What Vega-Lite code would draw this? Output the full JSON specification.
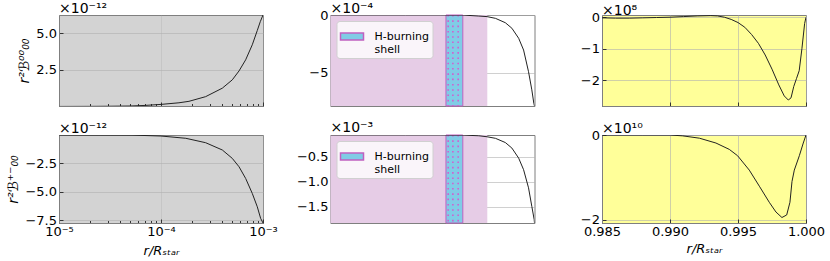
{
  "$schema": "https://vega.github.io/schema/vega-lite/v6.json",
  "padding": {"left": 6, "top": 1, "right": 0, "bottom": 0},
  "background": "white",
  "datasets": {
    "tl": [
      {"r": 0.00001, "v": 0.0}, {"r": 0.00002, "v": 0.005}, {"r": 0.00003, "v": 0.012}, {"r": 0.00005, "v": 0.03},
      {"r": 0.00007, "v": 0.07}, {"r": 0.0001, "v": 0.14}, {"r": 0.00015, "v": 0.25}, {"r": 0.000188, "v": 0.35},
      {"r": 0.000274, "v": 0.67}, {"r": 0.000399, "v": 1.25}, {"r": 0.0005, "v": 1.82}, {"r": 0.000582, "v": 2.43},
      {"r": 0.000676, "v": 3.19}, {"r": 0.000785, "v": 4.22}, {"r": 0.000879, "v": 5.2}, {"r": 0.00094, "v": 5.8},
      {"r": 0.001, "v": 6.26}
    ],
    "bl": [
      {"r": 0.00001, "v": 0.0}, {"r": 0.000052, "v": -0.01}, {"r": 0.0001, "v": -0.09}, {"r": 0.000175, "v": -0.29},
      {"r": 0.000274, "v": -0.68}, {"r": 0.000399, "v": -1.32}, {"r": 0.0005, "v": -2.06}, {"r": 0.000582, "v": -2.8},
      {"r": 0.000676, "v": -3.83}, {"r": 0.000785, "v": -5.15}, {"r": 0.000879, "v": -6.33}, {"r": 0.000948, "v": -7.35},
      {"r": 0.001, "v": -7.76}
    ],
    "tm": [
      {"r": 0.001, "v": 0.0}, {"r": 0.003, "v": 0.0}, {"r": 0.005, "v": 0.0}, {"r": 0.0069, "v": 0.0},
      {"r": 0.00883, "v": -0.09}, {"r": 0.00996, "v": -0.14}, {"r": 0.01127, "v": -0.29}, {"r": 0.01303, "v": -0.67},
      {"r": 0.01435, "v": -1.15}, {"r": 0.01585, "v": -2.02}, {"r": 0.01704, "v": -3.04}, {"r": 0.01832, "v": -4.92},
      {"r": 0.01923, "v": -6.5}, {"r": 0.0198, "v": -7.66}, {"r": 0.02, "v": -7.9}
    ],
    "bm": [
      {"r": 0.001, "v": -0.07}, {"r": 0.003, "v": -0.07}, {"r": 0.005, "v": -0.07}, {"r": 0.0069, "v": -0.071},
      {"r": 0.00883, "v": -0.085}, {"r": 0.00996, "v": -0.105}, {"r": 0.01127, "v": -0.136}, {"r": 0.01303, "v": -0.22},
      {"r": 0.01435, "v": -0.33}, {"r": 0.01585, "v": -0.53}, {"r": 0.01704, "v": -0.76}, {"r": 0.01832, "v": -1.12},
      {"r": 0.01923, "v": -1.49}, {"r": 0.0199, "v": -1.75}, {"r": 0.02, "v": -1.82}
    ],
    "tr": [
      {"r": 0.985, "v": -0.02}, {"r": 0.986, "v": -0.03}, {"r": 0.987, "v": -0.03}, {"r": 0.988, "v": -0.02},
      {"r": 0.989, "v": -0.01}, {"r": 0.99, "v": 0.0}, {"r": 0.991, "v": 0.02}, {"r": 0.992, "v": 0.04},
      {"r": 0.993, "v": 0.05}, {"r": 0.9935, "v": 0.04}, {"r": 0.994, "v": 0.0}, {"r": 0.9945, "v": -0.07},
      {"r": 0.995, "v": -0.17}, {"r": 0.9955, "v": -0.32}, {"r": 0.996, "v": -0.55}, {"r": 0.9965, "v": -0.83},
      {"r": 0.997, "v": -1.2}, {"r": 0.9975, "v": -1.65}, {"r": 0.998, "v": -2.15}, {"r": 0.9984, "v": -2.5},
      {"r": 0.9987, "v": -2.63}, {"r": 0.9989, "v": -2.56}, {"r": 0.9991, "v": -2.2}, {"r": 0.9993, "v": -1.95},
      {"r": 0.9995, "v": -1.7}, {"r": 0.9997, "v": -1.0}, {"r": 0.9999, "v": -0.2}, {"r": 1.0, "v": 0.0}
    ],
    "br": [
      {"r": 0.985, "v": 0.0}, {"r": 0.988, "v": 0.0}, {"r": 0.99, "v": 0.0}, {"r": 0.99093, "v": -0.02},
      {"r": 0.99216, "v": -0.075}, {"r": 0.99338, "v": -0.19}, {"r": 0.99436, "v": -0.34}, {"r": 0.99497, "v": -0.49},
      {"r": 0.99583, "v": -0.83}, {"r": 0.99657, "v": -1.21}, {"r": 0.9973, "v": -1.59}, {"r": 0.99779, "v": -1.82},
      {"r": 0.99823, "v": -1.95}, {"r": 0.99858, "v": -1.89}, {"r": 0.99882, "v": -1.59}, {"r": 0.99897, "v": -1.1},
      {"r": 0.99914, "v": -0.83}, {"r": 0.99951, "v": -0.49}, {"r": 0.9998, "v": -0.19}, {"r": 1.0, "v": 0.0}
    ],
    "zone": [{"x0": 0.001, "x1": 0.01}],
    "shell": [{"x0": 0.00545, "x1": 0.00698, "name": "H-burning shell"}],
    "dots": [{"x": 0.00563}, {"x": 0.00603}, {"x": 0.00652}]
  },
  "columns": 3,
  "bounds": "flush",
  "spacing": {"row": 29, "column": 67.5},
  "resolve": {"scale": {"color": "independent", "x": "independent", "y": "independent"}, "legend": {"color": "independent"}},
  "concat": [
    {
      "width": 204, "height": 91,
      "title": "×10⁻¹²",
      "view": {"fill": "#d3d3d3", "stroke": "#7f7f7f"},
      "data": {"name": "tl"},
      "mark": {"type": "line", "color": "#222222", "strokeWidth": 1, "clip": true},
      "encoding": {
        "x": {"field": "r", "type": "quantitative", "scale": {"type": "log", "domain": [0.00001, 0.001], "nice": false},
          "axis": {"values": [0.00001, 0.00002, 0.00003, 0.00004, 0.00005, 0.00006, 0.00007, 0.00008, 0.00009, 0.0001, 0.0002, 0.0003, 0.0004, 0.0005, 0.0006, 0.0007, 0.0008, 0.0009, 0.001],
            "labels": false, "title": null,
            "tickSize": {"condition": {"test": "indexof([0.00001, 0.0001, 0.001], datum.value) >= 0", "value": -4}, "value": -2.5},
            "gridOpacity": {"condition": {"test": "indexof([0.00001, 0.0001, 0.001], datum.value) >= 0", "value": 0.6}, "value": 0}}},
        "y": {"field": "v", "type": "quantitative", "scale": {"domain": [0.03, 6.26], "nice": false, "zero": false},
          "axis": {"values": [2.5, 5.0], "format": ".1f", "title": "r²ℬ⁰⁰₀₀"}}
      }
    },
    {
      "width": 204, "height": 91,
      "title": {"text": "×10⁻⁴", "dy": 6},
      "view": {"stroke": "#7f7f7f"},
      "layer": [
        {
          "data": {"name": "zone"},
          "mark": {"type": "rect", "color": "#e6cce6"},
          "encoding": {
            "x": {"field": "x0", "type": "quantitative", "scale": {"type": "log", "domain": [0.001, 0.02], "nice": false}, "axis": null},
            "x2": {"field": "x1"}
          }
        },
        {
          "data": {"name": "shell"},
          "mark": {"type": "rect", "stroke": "#c060c0", "strokeWidth": 1},
          "encoding": {
            "x": {"field": "x0", "type": "quantitative", "scale": {"type": "log", "domain": [0.001, 0.02], "nice": false}, "axis": null},
            "x2": {"field": "x1"},
            "color": {"field": "name", "type": "nominal", "scale": {"range": ["#80cce6"]},
              "legend": {"orient": "top-left", "offset": 6, "title": null, "labelExpr": "['H-burning', '\u00a0shell']",
                "symbolType": "M-1,-0.3H1V0.3H-1Z", "symbolSize": 529, "labelFontSize": 11, "labelFont": "DejaVu Sans", "labelColor": "black",
                "labelOffset": 10, "padding": 3, "fillColor": "rgba(255,255,255,0.8)", "strokeColor": "#d0d0d0", "cornerRadius": 3, "labelLimit": 200,
                "encode": {"symbols": {"update": {"fill": {"value": "#80ffff"}, "stroke": {"value": "#c060c0"}, "strokeWidth": {"value": 1}, "opacity": {"value": 1}}},
                  "labels": {"update": {"lineHeight": {"value": 12.5}, "dy": {"value": -3}}}}}}
          }
        },
        {
          "data": {"name": "dots"},
          "mark": {"type": "rule", "color": "#d060d0", "strokeWidth": 1.6, "strokeDash": [1.6, 3.7]},
          "encoding": {
            "x": {"field": "x", "type": "quantitative", "scale": {"type": "log", "domain": [0.001, 0.02], "nice": false}, "axis": null}
          }
        },
        {
          "data": {"name": "tm"},
          "mark": {"type": "line", "color": "#222222", "strokeWidth": 1, "clip": true},
          "encoding": {
            "x": {"field": "r", "type": "quantitative", "scale": {"type": "log", "domain": [0.001, 0.02], "nice": false},
              "axis": {"values": [0.001, 0.002, 0.003, 0.004, 0.005, 0.006, 0.007, 0.008, 0.009, 0.01, 0.02],
                "labels": false, "title": null,
                "tickSize": {"condition": {"test": "indexof([0.001, 0.002, 0.005, 0.01, 0.02], datum.value) >= 0", "value": -4}, "value": -2.5},
                "gridOpacity": {"condition": {"test": "indexof([0.001, 0.002, 0.005, 0.01, 0.02], datum.value) >= 0", "value": 0.6}, "value": 0}}},
            "y": {"field": "v", "type": "quantitative", "scale": {"domain": [-7.9, 0], "nice": false, "zero": false},
              "axis": {"values": [0, -5], "format": "d", "title": null}}
          }
        }
      ]
    },
    {
      "width": 204, "height": 91,
      "title": {"text": "×10⁸", "dy": 6},
      "view": {"fill": "#ffff99", "stroke": "#7f7f7f"},
      "data": {"name": "tr"},
      "mark": {"type": "line", "color": "#222222", "strokeWidth": 1, "clip": true},
      "encoding": {
        "x": {"field": "r", "type": "quantitative", "scale": {"domain": [0.985, 1.0], "nice": false, "zero": false},
          "axis": {"values": [0.985, 0.99, 0.995, 1.0], "labels": false, "title": null}},
        "y": {"field": "v", "type": "quantitative", "scale": {"domain": [-2.82, 0.07], "nice": false, "zero": false},
          "axis": {"values": [0, -1, -2], "format": "d", "title": null}}
      }
    },
    {
      "width": 204, "height": 88,
      "title": "×10⁻¹²",
      "view": {"fill": "#d3d3d3", "stroke": "#7f7f7f"},
      "data": {"name": "bl"},
      "mark": {"type": "line", "color": "#222222", "strokeWidth": 1, "clip": true},
      "encoding": {
        "x": {"field": "r", "type": "quantitative", "scale": {"type": "log", "domain": [0.00001, 0.001], "nice": false},
          "axis": {"values": [0.00001, 0.00002, 0.00003, 0.00004, 0.00005, 0.00006, 0.00007, 0.00008, 0.00009, 0.0001, 0.0002, 0.0003, 0.0004, 0.0005, 0.0006, 0.0007, 0.0008, 0.0009, 0.001],
            "labelExpr": "datum.value === 0.00001 ? '10⁻⁵' : datum.value === 0.0001 ? '10⁻⁴' : datum.value === 0.001 ? '10⁻³' : ''",
            "title": "r/Rₛₜₐᵣ",
            "tickSize": {"condition": {"test": "indexof([0.00001, 0.0001, 0.001], datum.value) >= 0", "value": -4}, "value": -2.5},
            "gridOpacity": {"condition": {"test": "indexof([0.00001, 0.0001, 0.001], datum.value) >= 0", "value": 0.6}, "value": 0}}},
        "y": {"field": "v", "type": "quantitative", "scale": {"domain": [-7.76, 0], "nice": false, "zero": false},
          "axis": {"values": [-2.5, -5.0, -7.5], "format": ".1f", "title": "r²ℬ⁺⁻₀₀"}}
      }
    },
    {
      "width": 204, "height": 88,
      "title": "×10⁻³",
      "view": {"stroke": "#7f7f7f"},
      "layer": [
        {
          "data": {"name": "zone"},
          "mark": {"type": "rect", "color": "#e6cce6"},
          "encoding": {
            "x": {"field": "x0", "type": "quantitative", "scale": {"type": "log", "domain": [0.001, 0.02], "nice": false}, "axis": null},
            "x2": {"field": "x1"}
          }
        },
        {
          "data": {"name": "shell"},
          "mark": {"type": "rect", "stroke": "#c060c0", "strokeWidth": 1},
          "encoding": {
            "x": {"field": "x0", "type": "quantitative", "scale": {"type": "log", "domain": [0.001, 0.02], "nice": false}, "axis": null},
            "x2": {"field": "x1"},
            "color": {"field": "name", "type": "nominal", "scale": {"range": ["#80cce6"]},
              "legend": {"orient": "top-left", "offset": 6, "title": null, "labelExpr": "['H-burning', '\u00a0shell']",
                "symbolType": "M-1,-0.3H1V0.3H-1Z", "symbolSize": 529, "labelFontSize": 11, "labelFont": "DejaVu Sans", "labelColor": "black",
                "labelOffset": 10, "padding": 3, "fillColor": "rgba(255,255,255,0.8)", "strokeColor": "#d0d0d0", "cornerRadius": 3, "labelLimit": 200,
                "encode": {"symbols": {"update": {"fill": {"value": "#80ffff"}, "stroke": {"value": "#c060c0"}, "strokeWidth": {"value": 1}, "opacity": {"value": 1}}},
                  "labels": {"update": {"lineHeight": {"value": 12.5}, "dy": {"value": -3}}}}}}
          }
        },
        {
          "data": {"name": "dots"},
          "mark": {"type": "rule", "color": "#d060d0", "strokeWidth": 1.6, "strokeDash": [1.6, 3.7]},
          "encoding": {
            "x": {"field": "x", "type": "quantitative", "scale": {"type": "log", "domain": [0.001, 0.02], "nice": false}, "axis": null}
          }
        },
        {
          "data": {"name": "bm"},
          "mark": {"type": "line", "color": "#222222", "strokeWidth": 1, "clip": true},
          "encoding": {
            "x": {"field": "r", "type": "quantitative", "scale": {"type": "log", "domain": [0.001, 0.02], "nice": false},
              "axis": {"values": [0.001, 0.002, 0.003, 0.004, 0.005, 0.006, 0.007, 0.008, 0.009, 0.01, 0.02],
                "labelExpr": "indexof([0.001, 0.002, 0.005, 0.01, 0.02], datum.value) >= 0 ? '' + datum.value : ''",
                "title": "r/Rₛₜₐᵣ",
                "tickSize": {"condition": {"test": "indexof([0.001, 0.002, 0.005, 0.01, 0.02], datum.value) >= 0", "value": -4}, "value": -2.5},
                "gridOpacity": {"condition": {"test": "indexof([0.001, 0.002, 0.005, 0.01, 0.02], datum.value) >= 0", "value": 0.6}, "value": 0}}},
            "y": {"field": "v", "type": "quantitative", "scale": {"domain": [-1.82, -0.07], "nice": false, "zero": false},
              "axis": {"values": [-0.5, -1.0, -1.5], "format": ".1f", "title": null}}
          }
        }
      ]
    },
    {
      "width": 204, "height": 88,
      "title": {"text": "×10¹⁰", "dy": 6},
      "view": {"fill": "#ffff99", "stroke": "#7f7f7f"},
      "data": {"name": "br"},
      "mark": {"type": "line", "color": "#222222", "strokeWidth": 1, "clip": true},
      "encoding": {
        "x": {"field": "r", "type": "quantitative", "scale": {"domain": [0.985, 1.0], "nice": false, "zero": false},
          "axis": {"values": [0.985, 0.99, 0.995, 1.0], "format": ".3f", "title": "r/Rₛₜₐᵣ"}},
        "y": {"field": "v", "type": "quantitative", "scale": {"domain": [-2.08, 0], "nice": false, "zero": false},
          "axis": {"values": [0, -1, -2], "format": "d", "title": null}}
      }
    }
  ],
  "config": {
    "font": "DejaVu Sans",
    "axis": {
      "labelFont": "DejaVu Sans", "labelFontSize": 13, "labelColor": "black",
      "titleFont": "DejaVu Sans", "titleFontSize": 13, "titleFontWeight": "normal", "titleColor": "black",
      "tickColor": "#333333", "tickSize": -4, "labelPadding": 6.5,
      "domainColor": "#7f7f7f", "gridColor": "#b0b0b0", "gridOpacity": 0.6, "gridWidth": 1,
      "labelOverlap": false, "labelFlush": false, "labelBound": false, "zindex": 1, "titlePadding": 4
    },
    "axisX": {"titleFontStyle": "italic"},
    "axisY": {"titleFontStyle": "italic", "titleFontSize": 14},
    "title": {"font": "DejaVu Sans", "fontSize": 14, "fontWeight": "normal", "anchor": "start", "frame": "group", "offset": -1, "color": "black"}
  }
}
